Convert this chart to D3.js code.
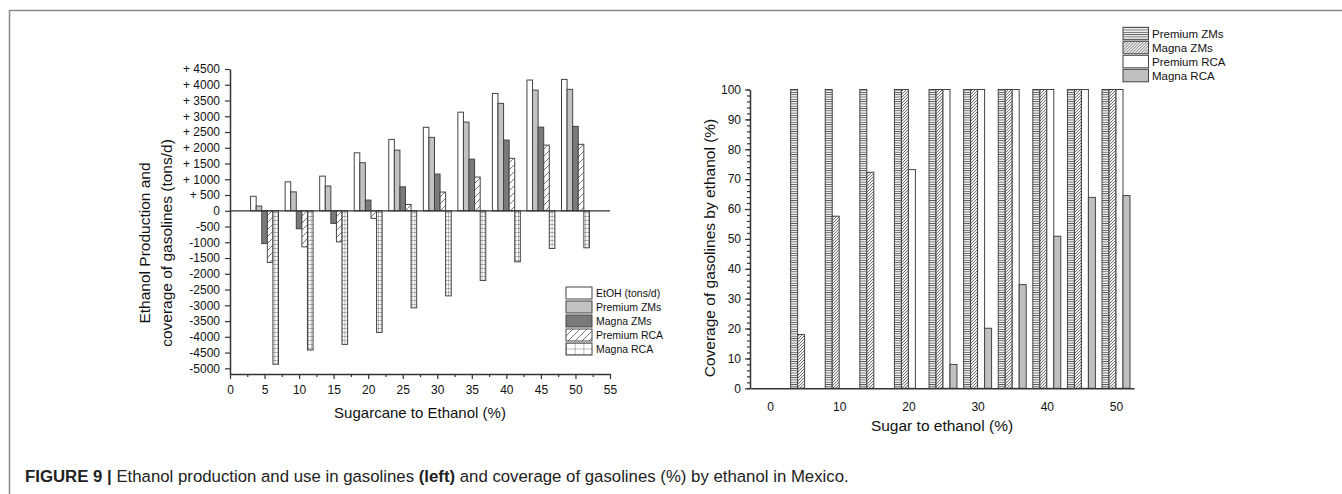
<!DOCTYPE html>
<html>
<head>
<meta charset="utf-8">
<script src="https://cdn.jsdelivr.net/npm/d3@7"></script>
<style>
  body { margin: 0; background: #fff; }
  svg { display: block; font-family: "Liberation Sans", Arial, sans-serif; }
</style>
</head>
<body>
<svg id="fig" width="1342" height="494"></svg>
<script>
// left panel: ethanol production and use in gasolines (tons/d)
const caneShare = [5, 10, 15, 20, 25, 30, 35, 40, 45, 50];
const etohTons = [460, 920, 1100, 1840, 2265, 2650, 3130, 3725, 4150, 4170];
const premiumZMs = [150, 600, 785, 1525, 1925, 2330, 2815, 3410, 3830, 3855];
const magnaZMs = [-1040, -570, -400, 340, 760, 1165, 1640, 2245, 2655, 2680];
const premiumRCA = [-1640, -1145, -985, -240, 200, 595, 1070, 1665, 2085, 2110];
const magnaRCA = [-4870, -4420, -4240, -3860, -3080, -2700, -2210, -1620, -1195, -1175];
const leftSeries = ["EtOH (tons/d)", "Premium ZMs", "Magna ZMs", "Premium RCA", "Magna RCA"];
const leftYTicks = d3.range(-5000, 4501, 500);
const leftXTicks = d3.range(0, 56, 5);

// right panel: coverage of gasolines by ethanol (%)
const sugarShare = [5, 10, 15, 20, 25, 30, 35, 40, 45, 50];
const covPremiumZMs = [100, 100, 100, 100, 100, 100, 100, 100, 100, 100];
const covMagnaZMs = [18, 57.6, 72.3, 100, 100, 100, 100, 100, 100, 100];
const covPremiumRCA = [0, 0, 0, 73.2, 100, 100, 100, 100, 100, 100];
const covMagnaRCA = [0, 0, 0, 0, 8, 20.1, 34.7, 50.9, 63.9, 64.5];
const rightSeries = ["Premium ZMs", "Magna ZMs", "Premium RCA", "Magna RCA"];
const rightYTicks = d3.range(0, 101, 10);
const rightXTicks = [0, 10, 20, 30, 40, 50];

const svg = d3.select("#fig");
const ink = "#333";

// patterns
const defs = svg.append("defs");
function pattern(id, w, h, paths, bg) {
  const p = defs.append("pattern").attr("id", id)
    .attr("patternUnits", "userSpaceOnUse").attr("width", w).attr("height", h);
  p.append("rect").attr("width", w).attr("height", h).attr("fill", bg || "#fff");
  p.append("path").attr("d", paths).attr("stroke", "#555")
    .attr("stroke-width", 0.8).attr("fill", "none");
}
pattern("hatchL", 7, 7, "M-1,1 L1,-1 M0,7 L7,0 M6,8 L8,6");
pattern("gridBarL", 2.8, 4, "M0,0 L2.8,0 M0,0 L0,4");
pattern("gridLegL", 8.7, 5.5, "M0,0 L8.7,0 M0,0 L0,5.5");
pattern("horizR", 4, 2.3, "M0,0.4 L4,0.4", "#f0f0f0");
pattern("diagR", 3, 3, "M-0.5,0.5 L0.5,-0.5 M0,3 L3,0 M2.5,3.5 L3.5,2.5", "#f2f2f2");

const leftFill = ["#fff", "#c2c2c2", "#7a7a7a", "url(#hatchL)", "url(#gridBarL)"];
const leftLegFill = ["#fff", "#c2c2c2", "#7a7a7a", "url(#hatchL)", "url(#gridLegL)"];
const rightFill = ["url(#horizR)", "url(#diagR)", "#fff", "#c0c0c0"];

// frame of the figure box
svg.append("line").attr("x1", 9).attr("x2", 1342).attr("y1", 10.5).attr("y2", 10.5)
  .attr("stroke", "#8a8a8a").attr("stroke-width", 1.5);
svg.append("line").attr("x1", 9.5).attr("x2", 9.5).attr("y1", 10).attr("y2", 494)
  .attr("stroke", "#8a8a8a").attr("stroke-width", 1.5);

function styleAxis(g, fs) {
  g.select(".domain").attr("stroke", ink).attr("stroke-width", 1.5);
  g.selectAll(".tick line").attr("stroke", ink).attr("stroke-width", 1.2);
  g.selectAll("text").attr("font-size", fs).attr("fill", "#111").attr("font-family", null);
}

// ---------- left panel ----------
const xL = d3.scaleLinear().domain([0, 55]).range([230, 610]);
const yL = d3.scaleLinear().domain([-5180, 4500]).range([374, 69]);
const subL = d3.scaleBand().domain(leftSeries).range([-2.02, 2.02]);
const leftVals = [etohTons, premiumZMs, magnaZMs, premiumRCA, magnaRCA];
const bwL = xL(subL.bandwidth()) - xL(0);

const leftBars = [];
caneShare.forEach((x, i) => {
  leftSeries.forEach((s, j) => leftBars.push({ x, s, j, v: leftVals[j][i] }));
});

svg.append("g").selectAll("rect").data(leftBars).join("rect")
  .attr("x", d => xL(d.x + subL(d.s)))
  .attr("width", bwL)
  .attr("y", d => yL(Math.max(0, d.v)))
  .attr("height", d => Math.abs(yL(d.v) - yL(0)))
  .attr("fill", d => leftFill[d.j])
  .attr("stroke", "#444").attr("stroke-width", 1);

// zero line
svg.append("line").attr("x1", xL(0)).attr("x2", xL(55))
  .attr("y1", yL(0)).attr("y2", yL(0))
  .attr("stroke", ink).attr("stroke-width", 1.3);

const fmtL = v => v > 0 ? "+ " + v : (v < 0 ? "-" + Math.abs(v) : "0");
svg.append("g").attr("transform", "translate(0,374)")
  .call(d3.axisBottom(xL).tickValues(d3.range(2.5, 55, 5)).tickSize(3).tickFormat(""))
  .call(g => { g.select(".domain").remove(); g.selectAll("line").attr("stroke", ink).attr("stroke-width", 1.2); });
svg.append("g").attr("transform", "translate(0,374)")
  .call(d3.axisBottom(xL).tickValues(leftXTicks).tickSize(5).tickSizeOuter(0).tickPadding(6))
  .call(g => styleAxis(g, 12));
svg.append("g").attr("transform", "translate(230,0)")
  .call(d3.axisLeft(yL).tickValues(leftYTicks).tickSize(5).tickSizeOuter(0).tickPadding(5).tickFormat(fmtL))
  .call(g => styleAxis(g, 12));

svg.append("text").attr("transform", "translate(156,243) rotate(-90)")
  .attr("text-anchor", "middle").attr("font-size", 15.5).attr("fill", "#111")
  .selectAll("tspan").data(["Ethanol Production and", "coverage of gasolines (tons/d)"])
  .join("tspan").attr("x", 0).attr("y", (d, i) => i ? 11 : -11).attr("dy", "0.35em").text(d => d);

svg.append("text").attr("x", 420).attr("y", 418).attr("text-anchor", "middle")
  .attr("font-size", 15).attr("fill", "#111").text("Sugarcane to Ethanol (%)");

const legL = svg.append("g").selectAll("g").data(leftSeries).join("g")
  .attr("transform", (d, i) => `translate(566,${287 + i * 14})`);
legL.append("rect").attr("width", 26).attr("height", 12)
  .attr("fill", (d, i) => leftLegFill[i]).attr("stroke", "#444").attr("stroke-width", 1);
legL.append("text").attr("x", 30).attr("y", 6).attr("dy", "0.35em")
  .attr("font-size", 10.5).attr("fill", "#111").text(d => d);

// ---------- right panel ----------
const xR = d3.scaleLinear().domain([-2.89, 52.6]).range([750, 1134]);
const yR = d3.scaleLinear().domain([0, 100]).range([388.3, 89.5]);
const subR = d3.scaleBand().domain(rightSeries).range([-2.02, 2.02]);
const rightVals = [covPremiumZMs, covMagnaZMs, covPremiumRCA, covMagnaRCA];
const bwR = xR(subR.bandwidth()) - xR(0);

const rightBars = [];
sugarShare.forEach((x, i) => {
  rightSeries.forEach((s, j) => {
    if (rightVals[j][i] > 0) rightBars.push({ x, s, j, v: rightVals[j][i] });
  });
});

svg.append("g").selectAll("rect").data(rightBars).join("rect")
  .attr("x", d => xR(d.x + subR(d.s)))
  .attr("width", bwR)
  .attr("y", d => yR(d.v))
  .attr("height", d => yR(0) - yR(d.v))
  .attr("fill", d => rightFill[d.j])
  .attr("stroke", "#444").attr("stroke-width", 1);

svg.append("g").attr("transform", "translate(750,0)")
  .call(d3.axisLeft(yR).tickValues(d3.range(0, 101, 2)).tickSize(3).tickFormat(""))
  .call(g => { g.select(".domain").remove(); g.selectAll("line").attr("stroke", ink).attr("stroke-width", 1.2); });
svg.append("g").attr("transform", "translate(750,0)")
  .call(d3.axisLeft(yR).tickValues(rightYTicks).tickSize(5).tickSizeOuter(0).tickPadding(4))
  .call(g => styleAxis(g, 12));
svg.append("g").attr("transform", "translate(0,388.3)")
  .call(d3.axisBottom(xR).tickValues(rightXTicks).tickSize(0).tickPadding(14))
  .call(g => styleAxis(g, 12));

svg.append("text").attr("transform", "translate(710,248) rotate(-90)")
  .attr("text-anchor", "middle").attr("dy", "0.35em")
  .attr("font-size", 15.5).attr("fill", "#111").text("Coverage of gasolines by ethanol (%)");

svg.append("text").attr("x", 942).attr("y", 430.5).attr("text-anchor", "middle")
  .attr("font-size", 15.5).attr("fill", "#111").text("Sugar to ethanol (%)");

const legR = svg.append("g").selectAll("g").data(rightSeries).join("g")
  .attr("transform", (d, i) => `translate(1123,${27.3 + i * 14})`);
legR.append("rect").attr("width", 25.5).attr("height", 12.5)
  .attr("fill", (d, i) => rightFill[i]).attr("stroke", "#444").attr("stroke-width", 1);
legR.append("text").attr("x", 29).attr("y", 6.3).attr("dy", "0.35em")
  .attr("font-size", 11.5).attr("fill", "#111").text(d => d);

// ---------- caption ----------
const cap = svg.append("text").attr("x", 25).attr("y", 482)
  .attr("font-size", 16.8).attr("fill", "#222");
cap.append("tspan").attr("font-weight", "bold").text("FIGURE 9 | ");
cap.append("tspan").text("Ethanol production and use in gasolines ");
cap.append("tspan").attr("font-weight", "bold").text("(left)");
cap.append("tspan").text(" and coverage of gasolines (%) by ethanol in Mexico.");
</script>
</body>
</html>
